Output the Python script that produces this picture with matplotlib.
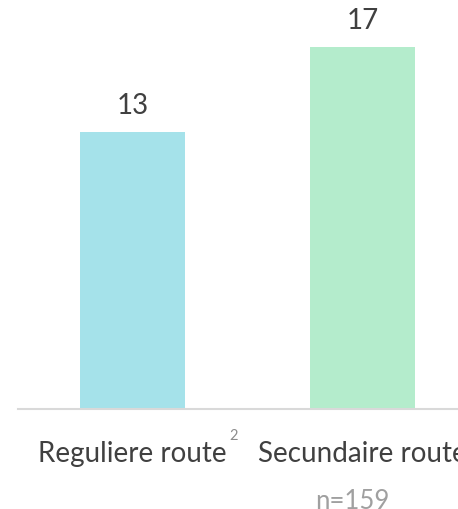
import matplotlib
matplotlib.use("Agg")
import matplotlib.pyplot as plt

categories = ["Reguliere route", "Secundaire route"]
values = [13, 17]
footnote_marks = ["2", ""]
bar_colors = ["#A5E2EA", "#B4ECCC"]
sample_note = "n=159"

plt.rcParams['font.family'] = ['Lato', 'DejaVu Sans']

W, H = 458, 510
fig = plt.figure(figsize=(W / 100, H / 100), dpi=100)
left = 17.5 / W
right = 477.5 / W
bottom = 1 - 410 / H
ymax = 19
height = ymax * (362 / 17) / H
ax = fig.add_axes([left, bottom, right - left, height])

x = list(range(len(categories)))
bars = ax.bar(x, values, width=0.457, color=bar_colors)
ax.set_xlim(-0.5, 1.5)
ax.set_ylim(0, ymax)

for s in ["top", "right", "left"]:
    ax.spines[s].set_visible(False)
ax.spines["bottom"].set_color("#D9D9D9")
ax.spines["bottom"].set_linewidth(1.5)
ax.set_yticks([])
ax.set_xticks(x)
ax.set_xticklabels(categories, fontsize=20, color="#404040")
ax.tick_params(axis="x", length=0, pad=22)

for b, v in zip(bars, values):
    ax.annotate(str(v), xy=(b.get_x() + b.get_width() / 2, v), xytext=(0, 10),
                textcoords="offset points", ha="center", va="bottom",
                fontsize=20, color="#404040")

fig.canvas.draw()
for lbl, mark in zip(ax.get_xticklabels(), footnote_marks):
    if mark:
        ax.annotate(mark, xy=(1, 1), xycoords=lbl, xytext=(2, 8),
                    textcoords="offset points", ha="left", va="top",
                    fontsize=10.5, color="#8C8C8C")

fig.text(352 / W, 1 / H, sample_note, ha="center", va="baseline",
         fontsize=18.5, color="#A0A0A0")

fig.savefig("out.png", dpi=100)
